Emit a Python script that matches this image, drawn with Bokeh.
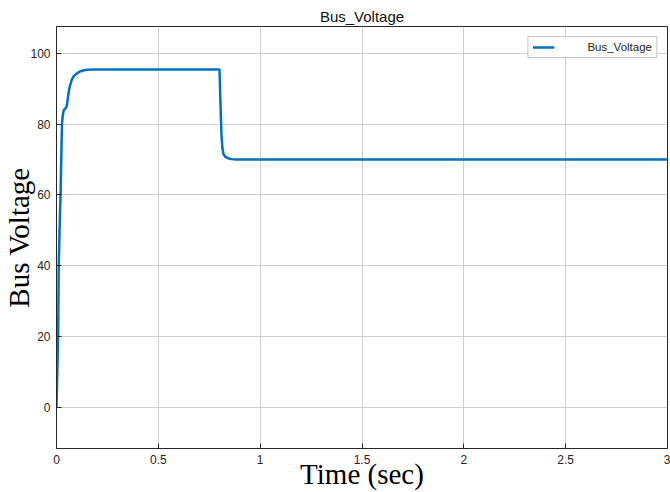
from bokeh.plotting import figure
from bokeh.models import FixedTicker, Range1d, Legend, LegendItem
from bokeh.embed import file_html
from bokeh.resources import INLINE

# Data
time_s = [0, 0.004, 0.008, 0.011, 0.015, 0.02, 0.024, 0.027, 0.03, 0.034, 0.037,
          0.045, 0.05, 0.055, 0.06, 0.065, 0.07, 0.075, 0.085, 0.1, 0.115, 0.13,
          0.15, 0.18, 0.25, 0.4, 0.6, 0.8, 0.802, 0.806, 0.81, 0.815, 0.82, 0.83,
          0.845, 0.86, 0.88, 0.95, 1.5, 2.0, 2.5, 3.0]
bus_voltage = [0, 10, 20, 40, 50, 60, 72, 80, 82, 83.5, 84,
               84.5, 85, 87, 89, 90.5, 91.5, 92.5, 93.5, 94.3, 94.8, 95.1,
               95.3, 95.4, 95.4, 95.4, 95.4, 95.4, 92, 84, 77, 73, 71.5, 70.7,
               70.3, 70.1, 70.0, 70.0, 70.0, 70.0, 70.0, 70.0]

x_ticks = [0, 0.5, 1, 1.5, 2, 2.5, 3]
x_tick_labels = ["0", "0.5", "1", "1.5", "2", "2.5", "3"]
y_ticks = [0, 20, 40, 60, 80, 100]
y_tick_labels = ["0", "20", "40", "60", "80", "100"]

title_text = "Bus_Voltage"
series_name = "Bus_Voltage"
x_label = "Time (sec)"
y_label = "Bus Voltage"

dark = "#262626"

p = figure(width=670, height=492, output_backend="svg", toolbar_location=None,
           x_range=Range1d(0, 3), y_range=Range1d(-11.5, 107.5),
           min_border_left=56, min_border_right=3, min_border_top=26, min_border_bottom=44)

p.title.text = title_text
p.title.align = "center"
p.title.text_font = "Liberation Sans"
p.title.text_font_style = "normal"
p.title.text_font_size = "15px"
p.title.text_color = "#111111"
p.title.offset = 0
p.title.standoff = 3

p.background_fill_color = "white"
p.border_fill_color = "white"
p.outline_line_color = dark
p.outline_line_width = 1
p.outline_line_alpha = 1

line = p.line(time_s, bus_voltage, line_color="#0072BD", line_width=2.5)

p.xaxis.ticker = FixedTicker(ticks=x_ticks)
p.yaxis.ticker = FixedTicker(ticks=y_ticks)
p.xaxis.major_label_overrides = {t: l for t, l in zip(x_ticks, x_tick_labels)}
p.yaxis.major_label_overrides = {t: l for t, l in zip(y_ticks, y_tick_labels)}

for ax in (p.xaxis, p.yaxis):
    ax.axis_line_color = dark
    ax.major_tick_line_color = dark
    ax.major_tick_in = 5
    ax.major_tick_out = 0
    ax.minor_tick_line_color = None
    ax.major_label_text_font = "Liberation Sans"
    ax.major_label_text_font_size = "12px"
    ax.major_label_text_color = dark
    ax.major_label_standoff = 6
    ax.axis_label_text_font = "Liberation Serif"
    ax.axis_label_text_font_style = "normal"
    ax.axis_label_text_font_size = "29px"
    ax.axis_label_text_color = "#000000"

p.xaxis.axis_label = x_label
p.yaxis.axis_label = y_label
p.xaxis.axis_label_standoff = -9
p.yaxis.axis_label_standoff = -8

p.grid.grid_line_color = "#cfcfcf"
p.grid.grid_line_width = 1

legend = Legend(items=[LegendItem(label=series_name, renderers=[line])],
                location="top_right")
legend.margin = 10
legend.padding = 4
legend.spacing = 0
legend.glyph_width = 22
legend.glyph_height = 12
legend.label_height = 12
legend.label_standoff = 33
legend.label_text_font = "Liberation Sans"
legend.label_text_font_size = "11.5px"
legend.label_text_color = dark
legend.border_line_color = "#8a8a8a"
legend.border_line_width = 1
legend.background_fill_color = "white"
legend.background_fill_alpha = 1
p.add_layout(legend)

open("out.html", "w").write(file_html(p, INLINE))
